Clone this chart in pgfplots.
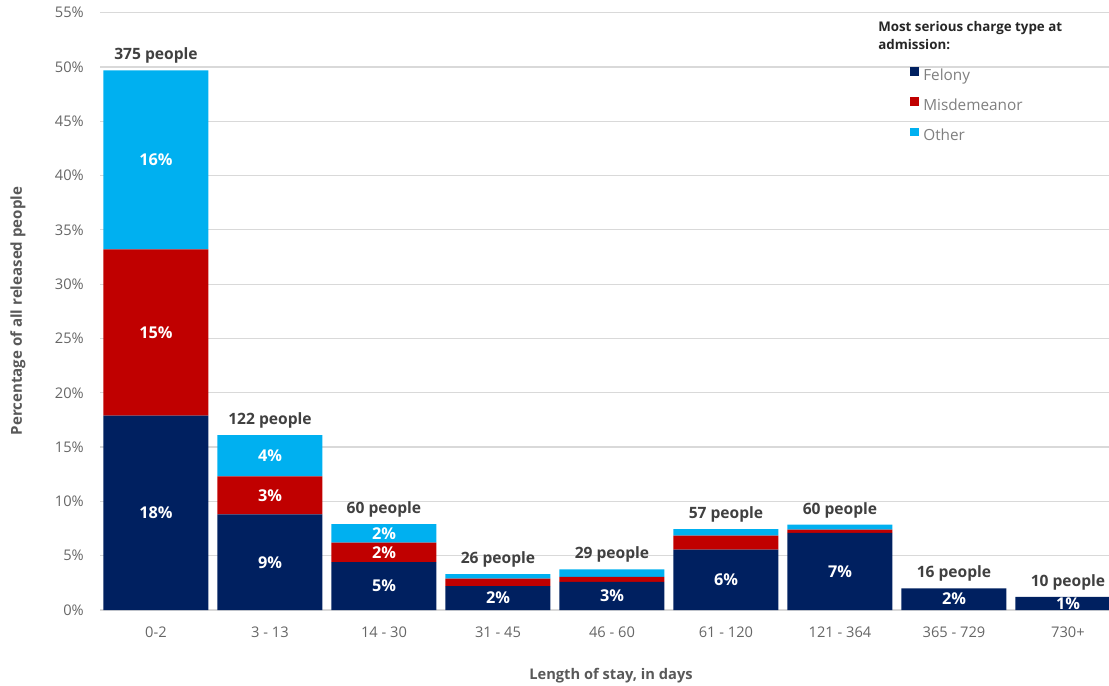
\documentclass[border=0pt]{standalone}
\usepackage{pgfplots}
\pgfplotsset{compat=1.18}
\usepackage{pgfplotstable}
\usepackage{fontspec}
\setmainfont{Open Sans}
\definecolor{felony}{HTML}{002060}
\definecolor{misd}{HTML}{C00000}
\definecolor{other}{HTML}{00B0F0}
\definecolor{tickgray}{HTML}{666666}
\definecolor{axgray}{HTML}{595959}
\definecolor{labgray}{HTML}{404040}
\definecolor{gridgray}{HTML}{D9D9D9}
\definecolor{leggray}{HTML}{7F7F7F}

\pgfplotstableread{
x felony misd other total people
0 17.9 15.3 16.5 49.7 375
1 8.8 3.5 3.8 16.1 122
2 4.4 1.8 1.7 7.9 60
3 2.2 0.7 0.4 3.3 26
4 2.6 0.45 0.7 3.75 29
5 5.55 1.3 0.6 7.45 57
6 7.1 0.3 0.45 7.85 60
7 2.0 0 0 2.0 16
8 1.2 0 0 1.2 10
}\data
\pgfplotstableread{
x y lab
0 8.95 18
0 25.55 15
0 41.45 16
1 4.4 9
1 10.55 3
1 14.2 4
2 2.2 5
2 5.3 2
2 7.05 2
3 1.1 2
4 1.3 3
5 2.78 6
6 3.55 7
7 1.0 2
8 0.6 1
}\seglabels

\begin{document}
\begin{tikzpicture}
\path[use as bounding box] (0pt,0pt) rectangle (831.75pt,513.75pt);
\clip (0pt,0pt) rectangle (831.75pt,513.75pt);
\begin{axis}[
  at={(75pt,56.25pt)}, anchor=south west,
  x=85.5pt, y=8.145pt,
  xmin=-0.491, xmax=8.6, ymin=0, ymax=55,
  enlargelimits=false,
  ybar stacked, bar width=78.75pt,
  axis line style={draw=none},
  tick style={draw=none},
  ymajorgrids, major grid style={gridgray, line width=0.9pt},
  ytick={0,5,...,55},
  yticklabels={0\%,5\%,10\%,15\%,20\%,25\%,30\%,35\%,40\%,45\%,50\%,55\%},
  xtick={0,...,8},
  xticklabels={0-2,3 - 13,14 - 30,31 - 45,46 - 60,61 - 120,121 - 364,365 - 729,730+},
  yticklabel style={anchor=east, inner sep=0pt, xshift=-12pt, font=\fontsize{11}{13}\selectfont, text=tickgray},
  xticklabel style={anchor=north, inner sep=0pt, yshift=-12.75pt, font=\fontsize{11}{13}\selectfont, text=tickgray},
  legend style={at={(0.7816,0.909)}, anchor=north west, draw=none, fill=none, inner sep=0pt, row sep=10.3pt,
    nodes={inner sep=0pt, text height=9pt, text depth=2.5pt, text=leggray, font=\fontsize{11.5}{14}\selectfont},
    /tikz/every odd column/.append style={column sep=3.5pt}},
  legend cell align=left,
  legend image code/.code={\fill[#1] (0pt,0.3pt) rectangle (6.25pt,6.55pt);},
]
\addplot[fill=felony, draw=none] table[x=x, y=felony] {\data};
\addlegendentry{Felony}
\addplot[fill=misd, draw=none] table[x=x, y=misd] {\data};
\addlegendentry{Misdemeanor}
\addplot[fill=other, draw=none] table[x=x, y=other] {\data};
\addlegendentry{Other}
\end{axis}
\begin{axis}[
  at={(75pt,56.25pt)}, anchor=south west,
  x=85.5pt, y=8.145pt,
  xmin=-0.491, xmax=8.6, ymin=0, ymax=55,
  enlargelimits=false, hide axis, clip=false]
\addplot[draw=none, mark=none,
  nodes near coords={\pgfplotspointmeta\%},
  point meta=explicit symbolic,
  every node near coord/.append style={anchor=center, inner sep=0pt, text=white, font=\bfseries\fontsize{12.2}{14}\selectfont}]
  table[x=x, y=y, meta=lab] {\seglabels};
\addplot[draw=none, mark=none,
  nodes near coords={\pgfplotspointmeta{} people},
  point meta=explicit symbolic,
  every node near coord/.append style={anchor=base, yshift=8pt, inner sep=0pt, font=\bfseries\fontsize{11.7}{14}\selectfont, text=labgray}]
  table[x=x, y=total, meta=people] {\data};
\end{axis}
\node[rotate=90, font=\bfseries\fontsize{11.3}{13}\selectfont, text=axgray] at (13.5pt,280.5pt) {Percentage of all released people};
\node[font=\bfseries\fontsize{11}{13}\selectfont, text=axgray] at (458.25pt,6.75pt) {Length of stay, in days};
\node[anchor=north west, align=left, inner sep=0pt, font=\bfseries\fontsize{10}{13.5}\selectfont, text=black!85] at (658.5pt,498pt) {Most serious charge type at\\admission:};
\end{tikzpicture}
\end{document}
